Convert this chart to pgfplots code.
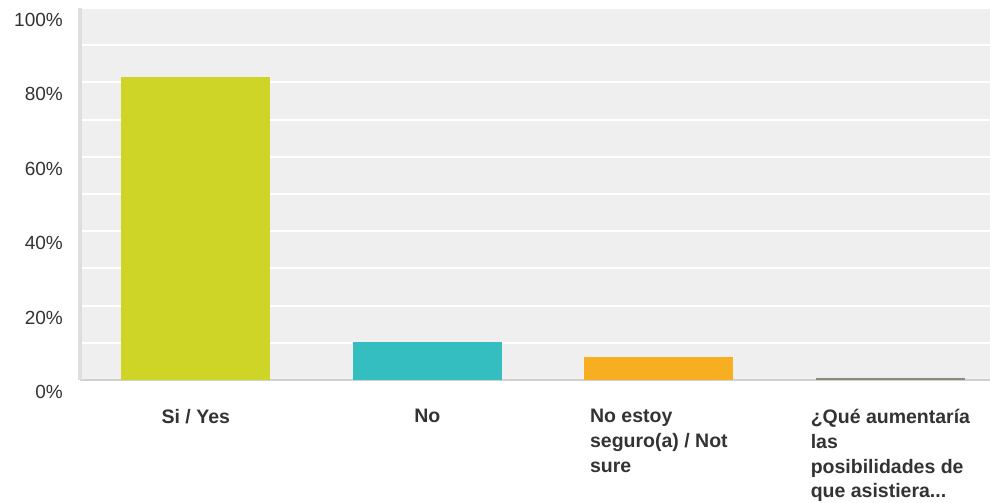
\documentclass[border=0pt]{standalone}
\usepackage{pgfplots}
\pgfplotsset{compat=1.18}
\usepackage{fontspec}
\setmainfont{Liberation Sans}
\definecolor{bgc}{HTML}{EFEFEF}
\definecolor{c1}{HTML}{CFD527}
\definecolor{c2}{HTML}{35BEBF}
\definecolor{c3}{HTML}{F7AF21}
\definecolor{c4}{HTML}{8A8B78}
\definecolor{txt}{HTML}{333333}
\newcommand\tdots{...}
\begin{document}
\begin{tikzpicture}
\path[use as bounding box] (0,0) rectangle (990bp,503bp);
\begin{axis}[
  at={(80bp,123bp)}, anchor=south west,
  width=910bp, height=372bp, scale only axis,
  xmin=-0.5, xmax=3.43, ymin=0, ymax=100,
  axis background/.style={fill=bgc},
  ybar, bar width=149bp, bar shift=0pt,
  axis lines*=left,
  x axis line style={draw=black!18, line width=2bp, -},
  y axis line style={draw=black!13, line width=3bp, -},
  xtick={0,1,2,3},
  xticklabels={Si / Yes, No, {No estoy\\seguro(a) / Not\\sure}, {¿Qué aumentaría\\las\\posibilidades de\\que asistiera\tdots}},
  xticklabel style={anchor=north, yshift=-29bp, align=left, inner sep=0pt, text=txt, font=\fontsize{19.5bp}{24.8bp}\selectfont\bfseries},
  ytick={0,20,40,60,80,100},
  yticklabels={0\%,20\%,40\%,60\%,80\%,100\%},
  minor ytick={10,30,50,70,90},
  yticklabel style={anchor=east, xshift=-17bp, yshift=-12bp, inner sep=0pt, text=txt, font=\fontsize{19bp}{22bp}\selectfont},
  major tick length=0pt, minor tick length=0pt,
  ymajorgrids, yminorgrids,
  major grid style={white, line width=2bp},
  minor grid style={white, line width=2bp},
  clip=false,
]
\addplot[fill=c1, draw=none] coordinates {(0,81.5)};
\addplot[fill=c2, draw=none] coordinates {(1,10.2)};
\addplot[fill=c3, draw=none] coordinates {(2,6.2)};
\addplot[fill=c4, draw=none] coordinates {(3,0.5)};
\end{axis}
\end{tikzpicture}
\end{document}
